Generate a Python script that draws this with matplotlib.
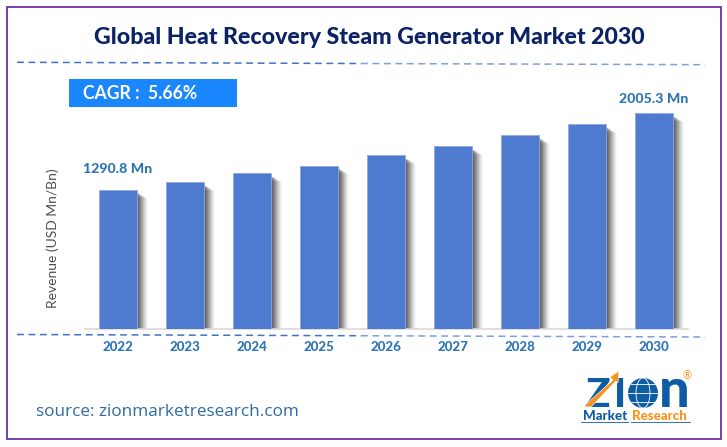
import matplotlib
matplotlib.use('Agg')
import matplotlib.pyplot as plt
from matplotlib.patches import Rectangle, Circle, Ellipse, Polygon

plt.rcParams['font.family'] = ['Lato', 'DejaVu Sans']

years = ['2022', '2023', '2024', '2025', '2026', '2027', '2028', '2029', '2030']
revenue = [1290.8, 1362, 1446, 1520, 1614, 1698, 1800, 1903, 2005.3]
first_label = '1290.8 Mn'
last_label = '2005.3 Mn'
title = 'Global Heat Recovery Steam Generator Market 2030'
cagr = 'CAGR :  5.66%'
ylabel = 'Revenue (USD Mn/Bn)'
source = 'source: zionmarketresearch.com'

W, H = 727, 447
BLUE = '#4E7BD0'
TEXT_BLUE = '#2F75B5'

fig = plt.figure(figsize=(W / 100, H / 100), dpi=100, facecolor='white')

# overlay in pixel coords for frame, dashes, logo
bg = fig.add_axes([0, 0, 1, 1], zorder=0)
bg.set_xlim(0, W)
bg.set_ylim(H, 0)
bg.axis('off')

bg.add_patch(Rectangle((6.5, 6.5), 714.5, 432.5, fill=False, ec='#7030A0', lw=1.3))

bg.text(369.5, 37, title, ha='center', va='center', fontsize=16.7, fontweight='black', color='#0B2265')

for y0, y1 in [(62.3, 64.7), (334.5, 337)]:
    bg.plot([17, 361], [y0, (y0 + y1) / 2], color='#4472C4', lw=1.1, dashes=(4.5, 3))
    bg.plot([361, 705], [(y0 + y1) / 2, y1], color='#7F9FDB', lw=1.1, dashes=(4.5, 3))

bg.add_patch(Rectangle((69, 79), 168, 28, fc='#1B87FF', ec='none'))
bg.text(83, 93.5, cagr, ha='left', va='center', fontsize=12.7, fontweight='bold', color='white')

bg.text(53, 238, ylabel, rotation=90, ha='center', va='center', fontsize=10, color='#505050')
bg.text(36, 412, source, ha='left', va='center', fontsize=12.3, color='#2E6CA4',
        fontfamily=['Open Sans', 'DejaVu Sans'])

# logo
LOGO_BLUE = '#0F5CA5'
LOGO_ORANGE = '#F7941D'
bg.text(598, 407, 'Z', ha='center', va='baseline', fontsize=29, fontweight='black', color=LOGO_BLUE)
bg.text(620, 407, 'I', ha='center', va='baseline', fontsize=29, fontweight='black', color=LOGO_BLUE)
bg.text(674, 407, 'n', ha='center', va='baseline', fontsize=39, fontweight='black', color=LOGO_BLUE)
bg.add_patch(Polygon([(584, 406), (613, 380), (610, 377), (619, 371), (618, 383), (616, 381), (591, 407)],
                     fc=LOGO_ORANGE, ec='white', lw=0.4, zorder=5))
bg.add_patch(Circle((643, 393), 15, fc=LOGO_BLUE, ec='none'))
bg.add_patch(Ellipse((643, 393), 14, 30, fill=False, ec='white', lw=0.6))
bg.plot([628, 658], [393, 393], color='white', lw=0.6)
bg.plot([631, 655], [384, 384], color='white', lw=0.6)
bg.plot([631, 655], [402, 402], color='white', lw=0.6)
bg.text(687, 376, '®', ha='center', va='center', fontsize=8, color=LOGO_ORANGE)
bg.text(605.5, 415.5, 'Market', ha='center', va='center', fontsize=9.6, fontweight='black', color=LOGO_BLUE)
bg.text(659.5, 415.5, 'Research', ha='center', va='center', fontsize=9.6, fontweight='black', color=LOGO_ORANGE)
bg.plot([581, 628], [422, 422], color=LOGO_BLUE, lw=0.6)
bg.plot([631, 690], [422, 422], color=LOGO_BLUE, lw=0.6)

# chart area, 67 px per category and 1290.8 -> 138 px
ax = fig.add_axes([85 / W, (H - 328.5) / H, 603 / W, 228.5 / H], zorder=1)
ax.patch.set_alpha(0)
x = list(range(len(years)))
ax.set_xlim(-0.4925, 8.507)
ax.set_ylim(0, 2131)

px = 1 / 67
py = 2131 / 228.5
# soft shadow on the right of each bar, outer layers faint and lower at the top
for i in range(11, 0, -1):
    ax.bar([v + i * px for v in x], [r - (2 + 0.6 * i) * py for r in revenue], width=38 * px,
           color='#333333', alpha=0.03 + 0.02 * (11 - i), lw=0, zorder=1)
ax.bar(x, revenue, width=38 * px, color='white', lw=0, zorder=2)
ax.bar(x, revenue, width=38 * px, color=BLUE, edgecolor='#8FA9E0', lw=0.6, zorder=3)

ax.set_xticks(x)
ax.set_xticklabels(years, fontsize=9.5, fontweight='black', color=TEXT_BLUE)
ax.tick_params(axis='x', length=0, pad=9)
ax.set_yticks([])
for side in ['top', 'left', 'right']:
    ax.spines[side].set_visible(False)
ax.spines['bottom'].set_color('#D9D9D9')
ax.spines['bottom'].set_linewidth(1.2)

ax.annotate(first_label, (x[0], revenue[0]), xytext=(-0.5, 11), textcoords='offset points',
            ha='center', va='bottom', fontsize=10.2, fontweight='black', color=TEXT_BLUE, annotation_clip=False)
ax.annotate(last_label, (x[-1], revenue[-1]), xytext=(0, 6), textcoords='offset points',
            ha='center', va='bottom', fontsize=10.2, fontweight='black', color=TEXT_BLUE, annotation_clip=False)

fig.savefig('out.png', dpi=100)
